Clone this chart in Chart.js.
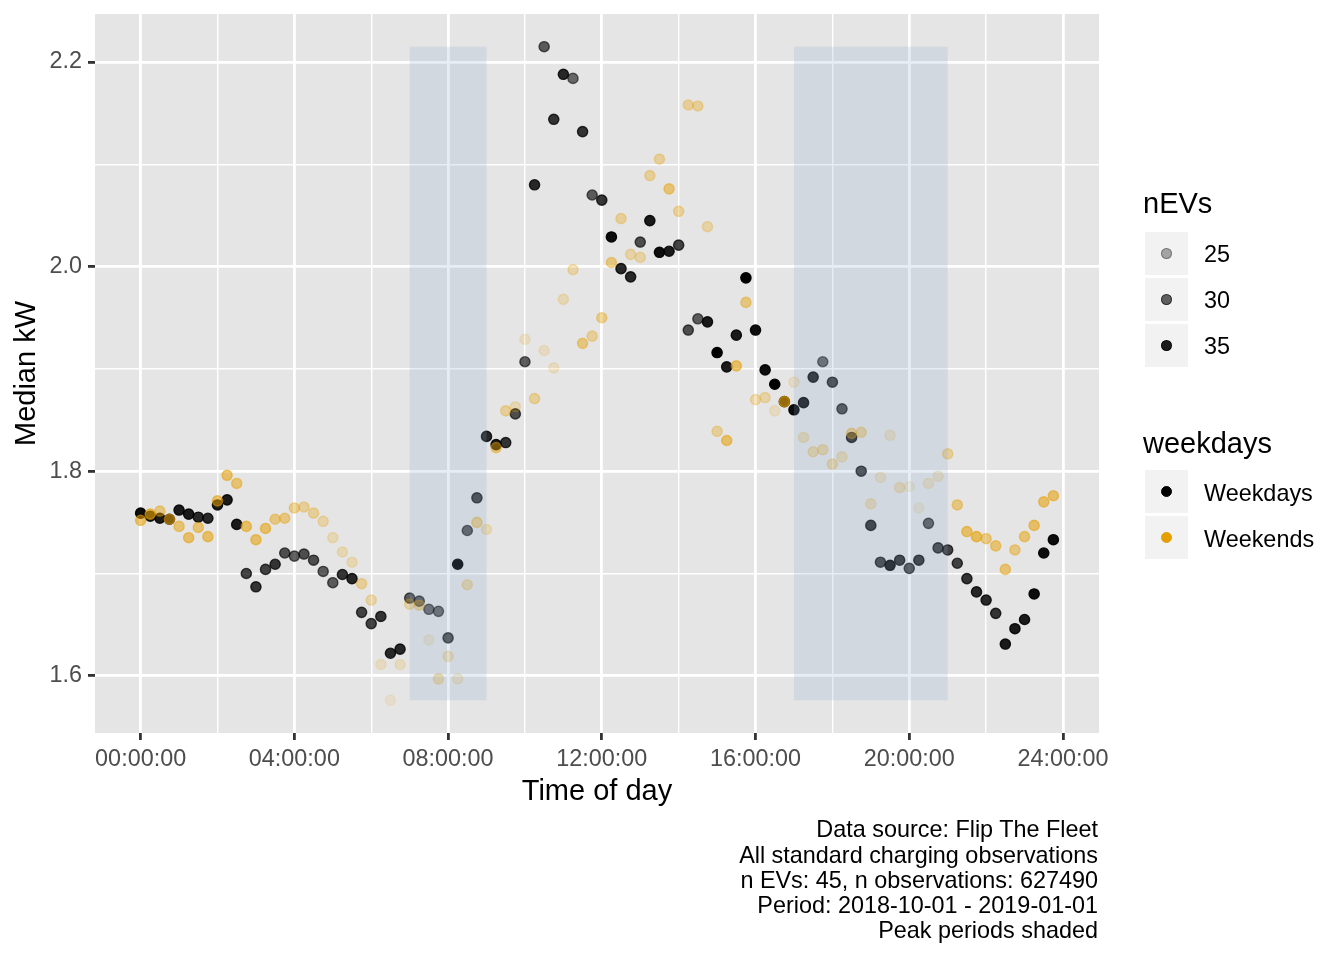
<!DOCTYPE html>
<html><head><meta charset="utf-8">
<script src="https://cdn.jsdelivr.net/npm/chart.js@4.4.0/dist/chart.umd.min.js"></script>
<style>
html,body{margin:0;padding:0;background:#fff;}
#wrap{position:relative;width:1344px;height:960px;font-family:"Liberation Sans",Arial,Helvetica,sans-serif;overflow:hidden;}
#c{position:absolute;left:0;top:0;}
.t{position:absolute;white-space:nowrap;color:#000;}
.key{position:absolute;width:43px;height:43px;background:#F2F2F2;}
.dot{position:absolute;left:16px;top:16px;width:11px;height:11px;border-radius:50%;box-sizing:border-box;border-style:solid;border-width:1.4px;}
</style></head>
<body>
<div id="wrap"><canvas id="c" width="1344" height="960"></canvas><div id="legend"></div><div id="caption"></div></div>
<script>
// ---- data ----
const timeOfDay = ["00:00","00:15","00:30","00:45","01:00","01:15","01:30","01:45","02:00","02:15","02:30","02:45",
"03:00","03:15","03:30","03:45","04:00","04:15","04:30","04:45","05:00","05:15","05:30","05:45",
"06:00","06:15","06:30","06:45","07:00","07:15","07:30","07:45","08:00","08:15","08:30","08:45",
"09:00","09:15","09:30","09:45","10:00","10:15","10:30","10:45","11:00","11:15","11:30","11:45",
"12:00","12:15","12:30","12:45","13:00","13:15","13:30","13:45","14:00","14:15","14:30","14:45",
"15:00","15:15","15:30","15:45","16:00","16:15","16:30","16:45","17:00","17:15","17:30","17:45",
"18:00","18:15","18:30","18:45","19:00","19:15","19:30","19:45","20:00","20:15","20:30","20:45",
"21:00","21:15","21:30","21:45","22:00","22:15","22:30","22:45","23:00","23:15","23:30","23:45"];

const weekdaysKW = [1.759,1.756,1.754,1.753,1.762,1.758,1.755,1.754,1.767,1.772,
1.748,1.700,1.687,1.704,1.709,1.720,1.717,1.719,1.713,1.702,
1.691,1.699,1.695,1.662,1.651,1.658,1.622,1.626,1.676,1.673,
1.665,1.663,1.637,1.709,1.742,1.774,1.834,1.826,1.828,1.856,
1.907,2.080,2.215,2.144,2.188,2.184,2.132,2.070,2.065,2.029,
1.998,1.990,2.024,2.045,2.014,2.015,2.021,1.938,1.949,1.946,
1.916,1.902,1.933,1.989,1.938,1.899,1.885,1.868,1.860,1.867,
1.892,1.907,1.887,1.861,1.833,1.800,1.747,1.711,1.708,1.713,
1.705,1.713,1.749,1.725,1.723,1.710,1.695,1.682,1.674,1.661,
1.631,1.646,1.655,1.680,1.720,1.733];

const weekendsKW = [1.752,1.758,1.761,1.753,1.746,1.735,1.745,1.736,1.771,1.796,
1.788,1.746,1.733,1.744,1.753,1.754,1.764,1.765,1.759,1.751,
1.735,1.721,1.711,1.690,1.674,1.611,1.576,1.611,1.670,1.669,
1.635,1.597,1.619,1.597,1.689,1.750,1.743,1.823,1.859,1.863,
1.929,1.871,1.918,1.901,1.968,1.997,1.925,1.932,1.950,2.004,
2.047,2.012,2.009,2.089,2.105,2.076,2.054,2.158,2.157,2.039,
1.839,1.830,1.903,1.965,1.870,1.872,1.859,1.868,1.887,1.833,
1.819,1.821,1.807,1.814,1.837,1.838,1.768,1.794,1.835,1.784,
1.785,1.764,1.788,1.795,1.817,1.767,1.741,1.736,1.734,1.727,
1.704,1.723,1.736,1.747,1.770,1.776];

const weekdaysNEVs = [36,35,35,35,35,35,34,34,35,35,
35,32,33,32,33,31,30,31,31,30,
30,33,34,32,32,33,34,34,30,30,
29,29,31,37,30,32,34,35,33,31,
30,34,30,33,34,29,33,30,33,36,
34,34,31,35,36,35,32,31,30,35,
37,35,35,37,36,36,37,35,36,35,
34,29,32,31,33,32,33,32,35,33,
31,33,30,32,32,32,33,34,34,33,
35,35,35,36,36,36];

const weekendsNEVs = [29,30,27,29,28,29,28,29,29,29,
28,29,29,29,27,27,26,25,25,24,
23,23,23,25,24,22,21,22,24,25,
21,24,23,22,24,26,23,27,25,23,
22,25,22,22,23,24,27,25,26,27,
25,24,24,25,25,28,25,25,25,24,
25,29,29,27,24,24,22,30,22,23,
24,24,24,23,26,25,23,22,22,23,
21,21,22,22,25,27,29,30,27,28,
28,27,28,29,29,29];

const seriesNames = ["Weekdays","Weekends"];
const seriesColors = ["0,0,0","230,159,0"];
const nEVsBreaks = [25,30,35];
const peakStart = [7,17];
const peakEnd = [9,21];
const xTickLabels = ["00:00:00","04:00:00","08:00:00","12:00:00","16:00:00","20:00:00","24:00:00"];
const yTickLabels = ["1.6","1.8","2.0","2.2"];
const captionLines = ["Data source: Flip The Fleet","All standard charging observations","n EVs: 45, n observations: 627490","Period: 2018-10-01 - 2019-01-01","Peak periods shaded"];

// ---- derived ----
const hours = timeOfDay.map(s => { const [h,m] = s.split(":").map(Number); return h + m/60; });
const allN = weekdaysNEVs.concat(weekendsNEVs);
const nMin = Math.min(...allN), nMax = Math.max(...allN);
const alphaOf = n => 0.1 + 0.9 * (n - nMin) / (nMax - nMin);
const allKW = weekdaysKW.concat(weekendsKW);
const yLo = Math.min(...allKW), yHi = Math.max(...allKW);
const yPad = (yHi - yLo) * 0.05;
const xLo = Math.min(...hours), xHi = Math.max(...hours);
const xPad = (xHi - xLo) * 0.05;
const FONT = '"Liberation Sans", Arial, Helvetica, sans-serif';
const SMALL = 23.4;

function mkData(vals){ return vals.map((v,i)=>({x:hours[i], y:v})); }
function colorFn(rgb, nArr){ return ctx => `rgba(${rgb},${alphaOf(nArr[ctx.dataIndex]).toFixed(3)})`; }

const bgPlugin = {
  id:'panelBg',
  beforeDraw(chart){
    const {ctx, chartArea:a} = chart;
    ctx.save(); ctx.fillStyle = '#E5E5E5';
    ctx.fillRect(a.left, a.top, a.right-a.left, a.bottom-a.top);
    ctx.restore();
  }
};
const peakPlugin = {
  id:'peaks',
  afterDatasetsDraw(chart){
    const {ctx, scales:{x, y}} = chart;
    ctx.save();
    ctx.fillStyle = 'rgba(130,165,205,0.2)';
    const yt = y.getPixelForValue(yHi), yb = y.getPixelForValue(yLo);
    for (let k=0;k<peakStart.length;k++){
      const x1 = x.getPixelForValue(peakStart[k]), x2 = x.getPixelForValue(peakEnd[k]);
      ctx.fillRect(x1, yt, x2-x1, yb-yt);
    }
    ctx.restore();
  }
};

const isMajorX = v => Math.abs(v % 4) < 1e-6;
const isMajorY = v => Math.round(v*10) % 2 === 0;

new Chart(document.getElementById('c'), {
  type:'scatter',
  data:{
    datasets:[
      {label:seriesNames[1], data:mkData(weekendsKW), order:0,
       backgroundColor:colorFn(seriesColors[1], weekendsNEVs), borderColor:colorFn(seriesColors[1], weekendsNEVs),
       pointRadius:5.1, borderWidth:1.4, pointHoverRadius:5.1},
      {label:seriesNames[0], data:mkData(weekdaysKW), order:1,
       backgroundColor:colorFn(seriesColors[0], weekdaysNEVs), borderColor:colorFn(seriesColors[0], weekdaysNEVs),
       pointRadius:5.1, borderWidth:1.4, pointHoverRadius:5.1}
    ]
  },
  options:{
    responsive:false, animation:false, devicePixelRatio:1, events:[],
    layout:{padding:{left:0, top:14, right:245, bottom:147}},
    plugins:{legend:{display:false}, tooltip:{enabled:false}},
    scales:{
      x:{
        type:'linear', min:xLo - xPad, max:xHi + xPad,
        afterBuildTicks(s){ const t=[]; for(let v=0; v<=24; v+=2) t.push({value:v}); s.ticks=t; },
        afterFit(s){ s.height = 80; s.paddingLeft = 0; s.paddingRight = 0; },
        border:{display:false},
        grid:{color:'#FFFFFF', lineWidth:c=>isMajorX(c.tick.value)?2.8:1.4,
              tickColor:c=>isMajorX(c.tick.value)?'#333333':'rgba(0,0,0,0)', tickWidth:2.8, tickLength:7},
        ticks:{autoSkip:false, maxRotation:0, padding:6, color:'#4D4D4D', font:{family:FONT, size:SMALL},
               callback:v=>isMajorX(v)?xTickLabels[Math.round(v/4)]:''},
        title:{display:true, text:'Time of day', color:'#000', font:{family:FONT, size:29}, padding:{top:0,bottom:3.6}}
      },
      y:{
        type:'linear', min:yLo - yPad, max:yHi + yPad,
        afterBuildTicks(s){ const t=[]; for(let k=16;k<=22;k++) t.push({value:k/10}); s.ticks=t; },
        afterFit(s){ s.width = 95; s.paddingTop = 0; s.paddingBottom = 0; },
        border:{display:false},
        grid:{color:'#FFFFFF', lineWidth:c=>isMajorY(c.tick.value)?2.8:1.4,
              tickColor:c=>isMajorY(c.tick.value)?'#333333':'rgba(0,0,0,0)', tickWidth:2.8, tickLength:7},
        ticks:{autoSkip:false, padding:6, color:'#4D4D4D', font:{family:FONT, size:SMALL},
               callback:v=>isMajorY(v)?yTickLabels[Math.round((v-1.6)*5)]:''},
        title:{display:true, text:'Median kW', color:'#000', font:{family:FONT, size:29}, padding:{top:9.6,bottom:0}}
      }
    }
  },
  plugins:[bgPlugin, peakPlugin]
});

// ---- legend (HTML) ----
const lg = document.getElementById('legend');
function addText(txt, left, top, size){
  const d = document.createElement('div'); d.className='t'; d.textContent = txt;
  d.style.left = left+'px'; d.style.top = top+'px'; d.style.fontSize = size+'px';
  d.style.lineHeight = (size===29?34:26)+'px'; lg.appendChild(d);
}
function addKey(top, rgba){
  const k = document.createElement('div'); k.className='key'; k.style.left='1145px'; k.style.top=top+'px';
  const d = document.createElement('div'); d.className='dot'; d.style.background=rgba; d.style.borderColor=rgba;
  k.appendChild(d); lg.appendChild(k);
}
addText('nEVs', 1143, 186, 29);
nEVsBreaks.forEach((n,i)=>{
  addKey(232 + i*46, `rgba(0,0,0,${alphaOf(n).toFixed(3)})`);
  addText(String(n), 1204, 241.3 + i*46, SMALL);
});
addText('weekdays', 1143, 426, 29);
seriesNames.forEach((nm,i)=>{
  addKey(470 + i*46, `rgb(${seriesColors[i]})`);
  addText(nm, 1204, 480 + i*46, SMALL);
});

// ---- caption ----
const cap = document.getElementById('caption');
cap.className='t';
cap.style.right = (1344-1098)+'px'; cap.style.top='817.4px'; cap.style.textAlign='right';
cap.style.fontSize=SMALL+'px'; cap.style.lineHeight='25.25px';
cap.innerHTML = captionLines.map(s=>s.replace(/&/g,'&amp;').replace(/</g,'&lt;')).join('<br>');
</script>
</body></html>
